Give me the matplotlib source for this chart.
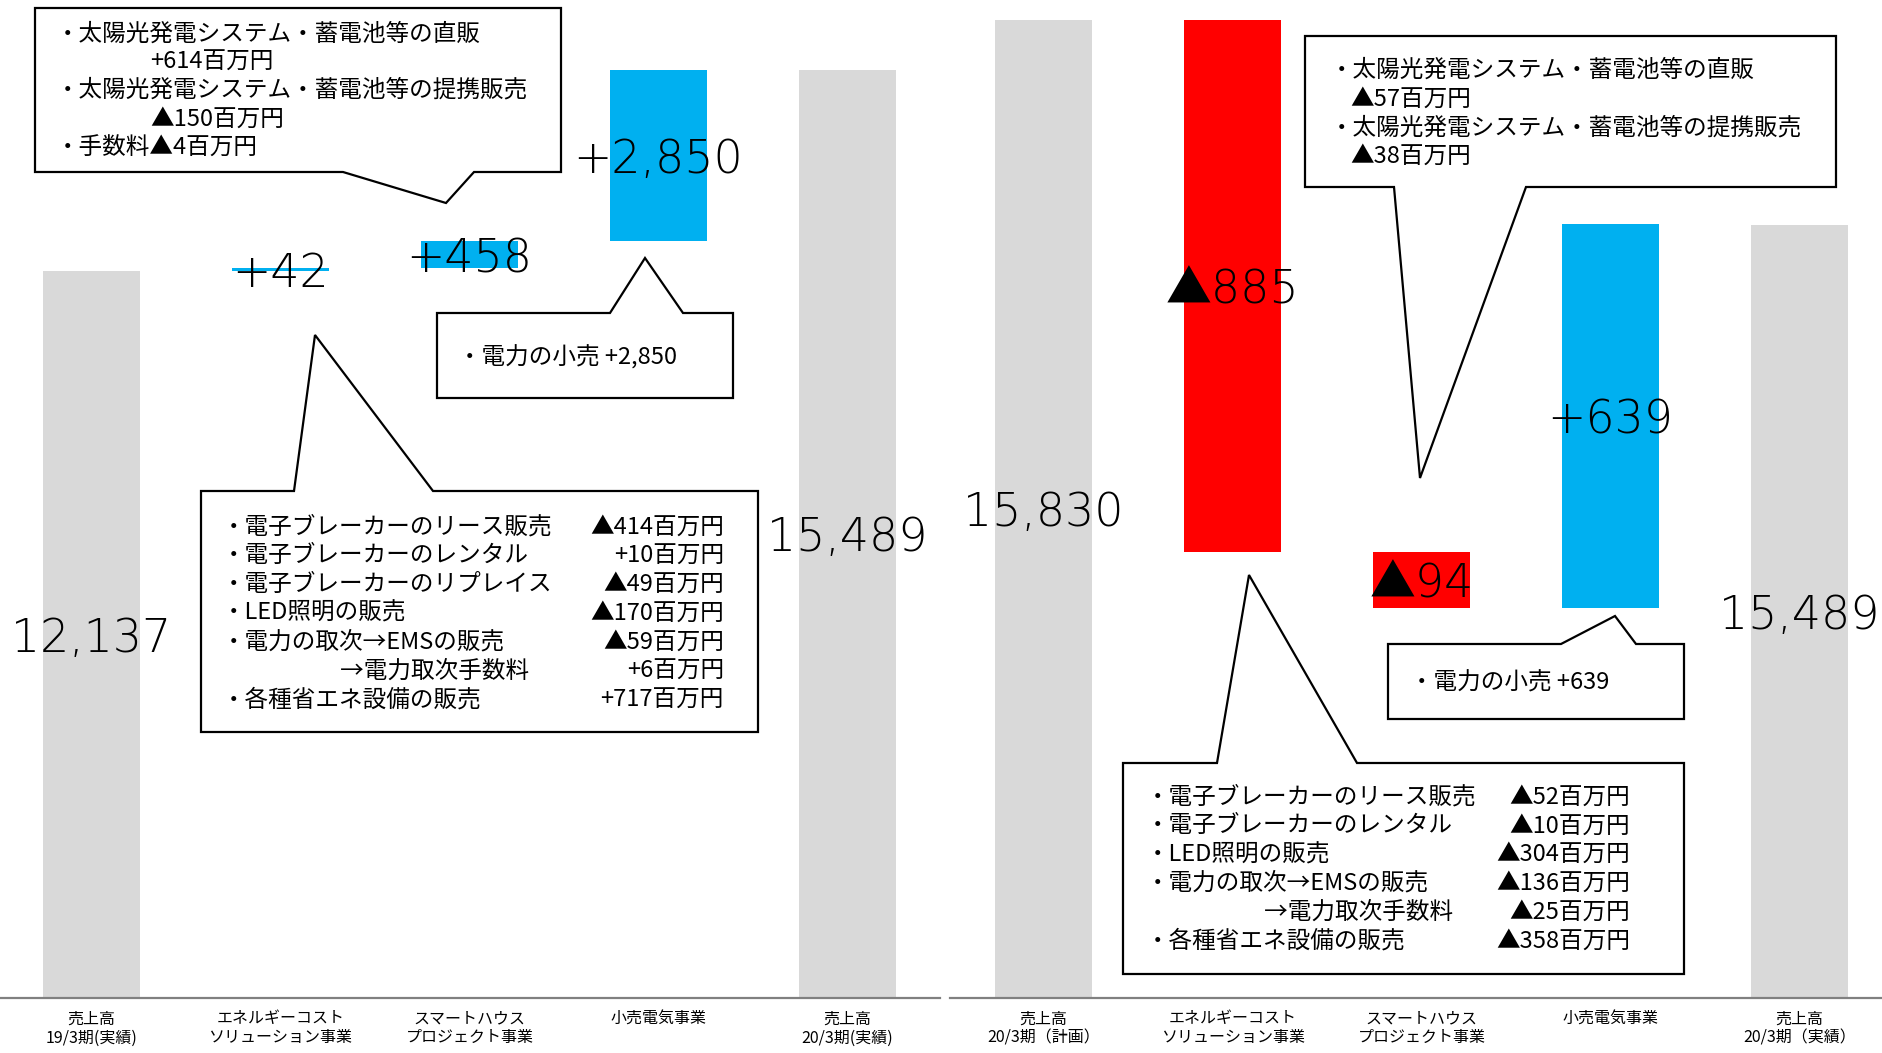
import matplotlib
matplotlib.use('Agg')
import matplotlib.pyplot as plt
from matplotlib.patches import Polygon

plt.rcParams['font.family'] = ['Noto Sans CJK JP', 'DejaVu Sans']

W, H = 1883, 1053

# 左: 19/3期(実績) -> 20/3期(実績)
left_cats = ['売上高\n19/3期(実績)', 'エネルギーコスト\nソリューション事業',
             'スマートハウス\nプロジェクト事業', '小売電気事業', '売上高\n20/3期(実績)']
left_start = 12137
left_changes = [42, 458, 2850]
left_end = 15489

# 右: 20/3期(計画) -> 20/3期(実績)
right_cats = ['売上高\n20/3期（計画）', 'エネルギーコスト\nソリューション事業',
              'スマートハウス\nプロジェクト事業', '小売電気事業', '売上高\n20/3期（実績）']
right_start = 15830
right_changes = [-885, -94, 639]
right_end = 15489

GRAY = '#d9d9d9'
BLUE = '#00b0f0'
RED = '#ff0000'


def fmt_change(v):
    return ('+{:,}' if v > 0 else '▲{:,}').format(abs(v))


def waterfall(ax, start, changes, end, cats, ylim, xlim):
    x = list(range(len(cats)))
    bottoms, heights, colors, labels = [0], [start], [GRAY], ['{:,}'.format(start)]
    level = start
    for c in changes:
        if c >= 0:
            bottoms.append(level)
            colors.append(BLUE)
        else:
            bottoms.append(level + c)
            colors.append(RED)
        heights.append(abs(c))
        labels.append(fmt_change(c))
        level += c
    bottoms.append(0)
    heights.append(end)
    colors.append(GRAY)
    labels.append('{:,}'.format(end))

    ax.bar(x, heights, bottom=bottoms, width=0.513, color=colors, zorder=2)
    ax.set_ylim(*ylim)
    ax.set_xlim(*xlim)
    for i in x:
        lo = max(bottoms[i], ylim[0])
        mid = (lo + bottoms[i] + heights[i]) / 2
        ax.text(i, mid, labels[i], ha='center', va='center_baseline',
                fontsize=33, fontweight='light',
                family=['DejaVu Sans', 'Noto Sans CJK JP'], zorder=3)

    for s in ['top', 'right', 'left']:
        ax.spines[s].set_visible(False)
    ax.spines['bottom'].set_color('#808080')
    ax.spines['bottom'].set_linewidth(1.6)
    ax.set_yticks([])
    ax.set_xticks(x)
    ax.set_xticklabels(cats, fontsize=11.5, linespacing=1.15)
    ax.tick_params(axis='x', length=0, pad=9)


fig = plt.figure(figsize=(W / 100, H / 100), dpi=100)

axL = fig.add_axes([0, 1 - 998 / H, 940 / W, 998 / H])
waterfall(axL, left_start, left_changes, left_end, left_cats,
          (0, 16657), (-0.484, 4.489))

axR = fig.add_axes([950 / W, 1 - 998 / H, 933 / W, 998 / H])
waterfall(axR, right_start, right_changes, right_end, right_cats,
          (14202, 15863), (-0.495, 4.442))

# 吹き出し用のオーバーレイ(ピクセル座標)
ov = fig.add_axes([0, 0, 1, 1])
ov.set_xlim(0, W)
ov.set_ylim(H, 0)
ov.axis('off')
ov.patch.set_visible(False)


def callout(pts):
    ov.add_patch(Polygon(pts, closed=True, facecolor='white',
                         edgecolor='black', linewidth=1.6, zorder=5))


def lines(items, size=17):
    for x, y, s, ha in items:
        ov.text(x, y, s, ha=ha, va='center', fontsize=size, zorder=6)


# 左上: スマートハウス
callout([(35, 8), (561, 8), (561, 172), (474, 172), (446, 203), (343, 172), (35, 172)])
lines([(56, 34, '・太陽光発電システム・蓄電池等の直販', 'left'),
       (150, 62, '+614百万円', 'left'),
       (56, 90, '・太陽光発電システム・蓄電池等の提携販売', 'left'),
       (150, 119, '▲150百万円', 'left'),
       (56, 148, '・手数料▲4百万円', 'left')])

# 左: 小売電気
callout([(437, 313), (610, 313), (645, 258), (683, 313), (733, 313),
         (733, 398), (437, 398)])
lines([(458, 357, '・電力の小売 +2,850', 'left')])

# 左下: エネルギーコスト
callout([(201, 491), (294, 491), (315, 335), (433, 491), (758, 491),
         (758, 732), (201, 732)])
left_items = [('・電子ブレーカーのリース販売', '▲414百万円'),
              ('・電子ブレーカーのレンタル', '+10百万円'),
              ('・電子ブレーカーのリプレイス', '▲49百万円'),
              ('・LED照明の販売', '▲170百万円'),
              ('・電力の取次→EMSの販売', '▲59百万円'),
              ('　　　　　→電力取次手数料', '+6百万円'),
              ('・各種省エネ設備の販売', '+717百万円')]
for k, (a, b) in enumerate(left_items):
    y = 527 + k * 28.8
    lines([(222, y, a, 'left'), (724, y, b, 'right')])

# 右上: スマートハウス
callout([(1305, 36), (1836, 36), (1836, 187), (1526, 187), (1420, 478),
         (1394, 187), (1305, 187)])
lines([(1330, 70, '・太陽光発電システム・蓄電池等の直販', 'left'),
       (1350, 99, '▲57百万円', 'left'),
       (1330, 128, '・太陽光発電システム・蓄電池等の提携販売', 'left'),
       (1350, 156, '▲38百万円', 'left')])

# 右: 小売電気
callout([(1388, 644), (1561, 644), (1615, 616), (1636, 644), (1684, 644),
         (1684, 719), (1388, 719)])
lines([(1410, 683, '・電力の小売 +639', 'left')])

# 右下: エネルギーコスト
callout([(1123, 763), (1217, 763), (1249, 575), (1357, 763), (1684, 763),
         (1684, 974), (1123, 974)])
right_items = [('・電子ブレーカーのリース販売', '▲52百万円'),
               ('・電子ブレーカーのレンタル', '▲10百万円'),
               ('・LED照明の販売', '▲304百万円'),
               ('・電力の取次→EMSの販売', '▲136百万円'),
               ('　　　　　→電力取次手数料', '▲25百万円'),
               ('・各種省エネ設備の販売', '▲358百万円')]
for k, (a, b) in enumerate(right_items):
    y = 797 + k * 28.8
    lines([(1146, y, a, 'left'), (1630, y, b, 'right')])

fig.savefig('out.png', dpi=100)
